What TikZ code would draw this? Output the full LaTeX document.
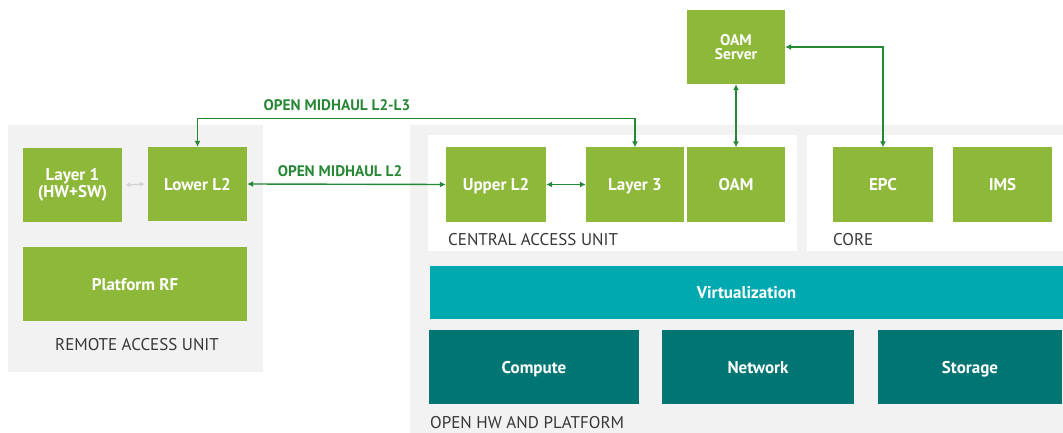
\documentclass[tikz,border=0pt]{standalone}
\usepackage{fontspec}
\setmainfont{PT Sans}
\usepackage{tikz}
\usetikzlibrary{calc, arrows, arrows.meta}
\definecolor{lime}{RGB}{141,184,58}
\definecolor{virtcol}{RGB}{0,168,176}
\definecolor{hwcol}{RGB}{0,117,115}
\definecolor{bggray}{RGB}{242,242,242}
\definecolor{linkcol}{RGB}{38,136,52}
\definecolor{txtgray}{RGB}{55,55,55}

\begin{document}
\begin{tikzpicture}[x=1pt,y=-1pt]
    \tikzset{
      blk/.style={
        rectangle,
        fill=lime,
        text=white,
        font=\fontsize{17}{17}\selectfont\bfseries,
        align=center,
        inner sep=0pt,
        text height=1.3em,
        text depth=0.1em,
        minimum width=99pt,
        minimum height=74pt,
      },
      twolines/.style={
        text height=,
        text depth=,
      },
      hwblk/.style={
        blk,
        fill=hwcol,
        minimum height=74pt,
      },
      unitlbl/.style={
        text=txtgray,
        font=\fontsize{17}{19}\selectfont,
        inner sep=0pt,
        text depth=0pt,
        anchor=base west,
      },
      linklbl/.style={
        text=linkcol,
        font=\fontsize{15.3}{17}\selectfont\bfseries,
        inner sep=0pt,
        anchor=base,
      },
      link/.style={
        <->,
        >={Latex[length=6pt,width=6pt]},
        draw=linkcol,
        line width=1.4pt,
      }
    }
    \useasboundingbox (0,0) rectangle (1063,433);

    % panels
    \fill[bggray] (8,125) rectangle (263,372);
    \fill[bggray] (410,125) rectangle (1063,433);
    \fill[white] (428,135) rectangle (797,251);
    \fill[white] (807,135) rectangle (1063,251);

    % remote access unit
    \node[blk, twolines] (lay1)  at (72.5,185)  {Layer 1\\(HW+SW)};
    \node[blk] (lowl2) at (197.5,184) {Lower L2};
    \node[blk, minimum width=224pt] (platrf) at (135,284) {Platform RF};
    \node[unitlbl, anchor=base] (rau) at (137,350) {REMOTE ACCESS UNIT};

    % central access unit
    \node[blk, minimum width=100pt] (upl2) at (496,184.5) {Upper L2};
    \node[blk, minimum width=98pt]  (lay3) at (635,184.5) {Layer 3};
    \node[blk, minimum width=98pt]  (oam)  at (736,184.5) {OAM};
    \node[unitlbl] (cau) at (448,245) {CENTRAL ACCESS UNIT};

    \node[blk, twolines, minimum width=98pt, font=\fontsize{15.5}{13.5}\selectfont\bfseries]
        (oamsrv) at (736,47) {OAM\\Server};

    % core
    \node[blk, minimum width=100pt] (epc) at (883,184.5) {EPC};
    \node[blk] (ims) at (1002.5,184.5) {IMS};
    \node[unitlbl] (core) at (833,245) {CORE};

    % open hw and platform
    \node[blk, fill=virtcol, minimum width=633pt, minimum height=53pt]
        (virt) at (746.5,292.5) {Virtualization};
    \node[hwblk, minimum width=210pt] (comp) at (534,367) {Compute};
    \node[hwblk, minimum width=192pt] (net)  at (758,367) {Network};
    \node[hwblk, minimum width=184pt] (stor) at (970,367) {Storage};
    \node[unitlbl] (ohw) at (430,428) {OPEN HW AND PLATFORM};

    % links
    \draw[link] (lowl2.north) -- ++(0,-28) -| (lay3.north);
    \draw[link] (lowl2.east) -- (upl2.west);
    \draw[link] (upl2.east) -- (lay3.west);
    \draw[link] (oamsrv.south) -- (oam.north);
    \draw[link] (oamsrv.east) -| (epc.north);
    \draw[link, draw=black!18, line width=1.2pt, shorten <=3pt, shorten >=3pt,
          >={Latex[length=5pt,width=5pt]}]
        (lay1.east) -- (lowl2.west);

    \node[linklbl] (mhl23) at (337,110.5) {OPEN MIDHAUL L2-L3};
    \node[linklbl] (mhl2)  at (340,176) {OPEN MIDHAUL L2};
\end{tikzpicture}
\end{document}
